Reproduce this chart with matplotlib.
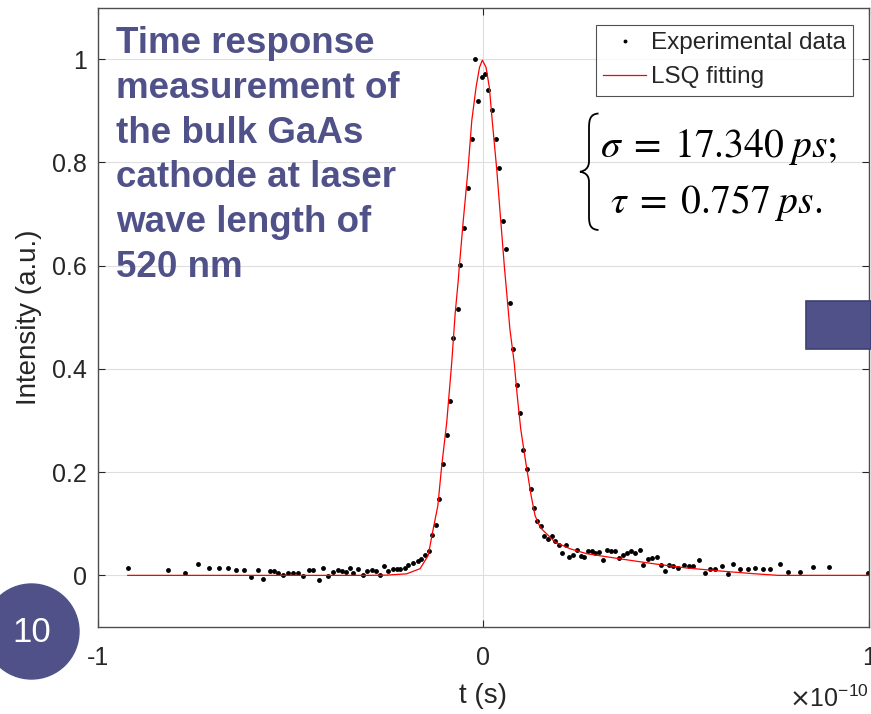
import numpy as np
import matplotlib
matplotlib.use('Agg')
import matplotlib.pyplot as plt
from matplotlib.path import Path
from matplotlib.patches import PathPatch, Circle, Rectangle
from matplotlib.transforms import Affine2D
from matplotlib.ticker import ScalarFormatter, FuncFormatter

plt.rcParams['font.family'] = ['Liberation Sans', 'DejaVu Sans']
plt.rcParams['axes.unicode_minus'] = False

# experimental points, time in units of 1e-10 s
t_exp = [-0.922, -0.817, -0.774, -0.739, -0.711, -0.685, -0.661, -0.641, -0.621, -0.602,
         -0.585, -0.571, -0.553, -0.542, -0.532, -0.520, -0.507, -0.494, -0.480, -0.467,
         -0.451, -0.441, -0.425, -0.415, -0.402, -0.389, -0.378, -0.367, -0.356, -0.346,
         -0.337, -0.324, -0.311, -0.302, -0.289, -0.278, -0.268, -0.258, -0.246, -0.235,
         -0.225, -0.216, -0.203, -0.195, -0.182, -0.169, -0.162, -0.151, -0.140, -0.132,
         -0.123, -0.114, -0.105, -0.095, -0.086, -0.078, -0.067, -0.060, -0.049, -0.0405,
         -0.030, -0.0215, -0.013, -0.004, 0.0044, 0.013, 0.023, 0.032, 0.0415, 0.050,
         0.059, 0.069, 0.076, 0.087, 0.095, 0.104, 0.114, 0.123, 0.131, 0.140,
         0.150, 0.158, 0.167, 0.177, 0.186, 0.195, 0.203, 0.214, 0.223, 0.232,
         0.242, 0.253, 0.261, 0.271, 0.281, 0.290, 0.301, 0.310, 0.320, 0.330,
         0.342, 0.352, 0.362, 0.372, 0.382, 0.393, 0.405, 0.415, 0.426, 0.437,
         0.450, 0.460, 0.471, 0.482, 0.493, 0.506, 0.519, 0.532, 0.543, 0.560,
         0.575, 0.588, 0.600, 0.618, 0.635, 0.648, 0.666, 0.686, 0.705, 0.725,
         0.744, 0.768, 0.791, 0.820, 0.856, 0.897, 0.998]
i_exp = [0.0143, 0.0097, 0.0046, 0.0226, 0.0143, 0.0149, 0.0143, 0.0097, 0.0097, -0.003,
         0.0110, -0.0064, 0.0084, 0.0084, 0.0046, 0.0, 0.0046, 0.0046, 0.0052, -0.0019,
         0.011, 0.011, -0.0096, 0.0149, -0.0019, 0.0066, 0.0097, 0.0084, 0.0066, 0.0143,
         0.0046, 0.0116, 0.0, 0.0077, 0.0097, 0.0084, 0.0, 0.0174, 0.0077, 0.0116,
         0.0116, 0.0129, 0.0143, 0.0206, 0.0239, 0.027, 0.031, 0.040, 0.048, 0.0785,
         0.098, 0.147, 0.215, 0.271, 0.338, 0.460, 0.516, 0.601, 0.673, 0.750,
         0.846, 1.0, 0.918, 0.966, 0.971, 0.941, 0.902, 0.846, 0.789, 0.686,
         0.632, 0.527, 0.439, 0.368, 0.315, 0.243, 0.207, 0.167, 0.131, 0.106,
         0.0965, 0.076, 0.0695, 0.077, 0.0675, 0.058, 0.043, 0.058, 0.0355, 0.0386,
         0.050, 0.0374, 0.0355, 0.047, 0.0463, 0.0438, 0.0451, 0.0289, 0.0482, 0.0463,
         0.0463, 0.0341, 0.040, 0.0438, 0.0463, 0.0438, 0.0482, 0.0206, 0.0322, 0.0341,
         0.0355, 0.0193, 0.0085, 0.0206, 0.0181, 0.0143, 0.0206, 0.0174, 0.0174, 0.0289,
         0.0046, 0.0129, 0.0129, 0.0181, 0.0019, 0.0212, 0.0116, 0.0116, 0.0143, 0.0116,
         0.0116, 0.0212, 0.0066, 0.0066, 0.0162, 0.0162, 0.0039]

# LSQ fitted curve
t_fit = [-0.922, -0.30, -0.25, -0.199, -0.164, -0.143, -0.130, -0.118, -0.108, -0.095,
         -0.082, -0.073, -0.065, -0.062, -0.052, -0.040, -0.030, -0.019, -0.010, -0.0026,
         0.007, 0.0156, 0.023, 0.035, 0.045, 0.0545, 0.069, 0.080, 0.088, 0.097,
         0.110, 0.124, 0.134, 0.143, 0.151, 0.186, 0.225, 0.268, 0.355, 0.441,
         0.527, 0.614, 0.700, 0.765, 1.0]
i_fit = [0.0, 0.0, 0.0005, 0.003, 0.013, 0.0386, 0.090, 0.135, 0.212, 0.296,
         0.412, 0.508, 0.572, 0.601, 0.688, 0.784, 0.881, 0.945, 0.984, 0.998,
         0.984, 0.945, 0.881, 0.784, 0.688, 0.598, 0.476, 0.412, 0.347, 0.283,
         0.219, 0.154, 0.116, 0.100, 0.090, 0.0644, 0.0515, 0.042, 0.032, 0.0226,
         0.0143, 0.0085, 0.0033, 0.0, 0.0]

y_ticks = [0, 0.2, 0.4, 0.6, 0.8, 1]
x_ticks = [-1e-10, 0, 1e-10]

title_lines = ['Time response', 'measurement of', 'the bulk GaAs',
               'cathode at laser', 'wave length of', '520 nm']
fit_lines = [r'$\sigma\;=\;17.340\;ps;$', r'$\tau\;=\;0.757\;ps.$']

W, H = 871, 714
slide_col = '#4f5188'
dark = '#262626'


class PlainScalarFormatter(ScalarFormatter):
    # tick labels as plain text, offset still shown as x10^n
    def __call__(self, x, pos=None):
        return '%g' % (x / 10 ** self.orderOfMagnitude)


def fx(px):
    return px / W


def fy(py):
    return 1 - py / H


fig = plt.figure(figsize=(W / 100, H / 100), dpi=100)
ax = fig.add_axes([fx(97.7), fy(627), fx(869) - fx(97.7), fy(7.5) - fy(627)])
px_tr = Affine2D().scale(1 / W, -1 / H).translate(0, 1) + fig.transFigure

ax.grid(True, color='#dedede', lw=0.8)
ax.set_axisbelow(True)
exp_line, = ax.plot(np.array(t_exp) * 1e-10, i_exp, 'o', color='black', ms=3.5, mew=0,
                    label='Experimental data')
fit_line, = ax.plot(np.array(t_fit) * 1e-10, i_fit, '-', color='#ff0000', lw=0.9,
                    label='LSQ fitting')

ax.set_xlim(-1e-10, 1e-10)
ax.set_ylim(-0.1, 1.1)
ax.set_xticks(x_ticks)
ax.set_yticks(y_ticks)
ax.xaxis.set_major_formatter(PlainScalarFormatter(useMathText=True))
ax.yaxis.set_major_formatter(FuncFormatter(lambda v, p: '%g' % v))
ax.tick_params(direction='in', length=5, width=0.8, colors=dark, labelsize=18,
               top=True, right=True)
ax.tick_params(axis='x', pad=14)
ax.tick_params(axis='y', pad=8)
ax.xaxis.OFFSETTEXTPAD = 11
ax.xaxis.get_offset_text().set_fontsize(18)
ax.xaxis.get_offset_text().set_color(dark)
for sp in ax.spines.values():
    sp.set_color('#4d4d4d')
    sp.set_linewidth(1.0)

ax.set_xlabel('t (s)', fontsize=20, color=dark, labelpad=9)
ax.set_ylabel('Intensity (a.u.)', fontsize=20, color=dark, labelpad=7)

leg = ax.legend(handles=[exp_line, fit_line], loc='upper right',
                bbox_to_anchor=(fx(853), fy(25)), bbox_transform=fig.transFigure,
                borderaxespad=0, fontsize=17.5, frameon=True, fancybox=False,
                handlelength=1.75, handletextpad=0.2, borderpad=0.3,
                labelspacing=0.5, numpoints=1, markerscale=0.8)
leg.get_frame().set_edgecolor(dark)
leg.get_frame().set_linewidth(0.8)
for txt in leg.get_texts():
    txt.set_color(dark)

# title block, one line at a time
for k, line in enumerate(title_lines):
    fig.text(fx(116), fy(53.3 + 44.7 * k), line, fontsize=26.5, fontweight='bold',
             color=slide_col, va='baseline', ha='left')

# fitted parameters with a left brace
fig.text(fx(600), fy(157), fit_lines[0], fontsize=28.5, math_fontfamily='stix',
         va='baseline', ha='left', color='black')
fig.text(fx(610), fy(213), fit_lines[1], fontsize=28.5, math_fontfamily='stix',
         va='baseline', ha='left', color='black')

verts = [(598.5, 113.5), (590, 114), (589, 120), (589, 128),
         (589, 161),
         (589, 168), (585, 171), (580, 171.7),
         (585, 172.5), (589, 175), (589, 182),
         (589, 216),
         (589, 224), (590, 229.5), (598.5, 230)]
codes = [Path.MOVETO, Path.CURVE4, Path.CURVE4, Path.CURVE4,
         Path.LINETO,
         Path.CURVE4, Path.CURVE4, Path.CURVE4,
         Path.CURVE4, Path.CURVE4, Path.CURVE4,
         Path.LINETO,
         Path.CURVE4, Path.CURVE4, Path.CURVE4]
fig.patches.append(PathPatch(Path(verts, codes), fill=False, lw=1.3, color='black',
                             transform=px_tr))

# slide decorations: page badge and side tab
fig.patches.append(Circle((31.5, 631.5), 47.5, transform=px_tr, color=slide_col,
                          zorder=3))
fig.patches.append(Rectangle((806, 301), 65, 48, transform=px_tr, facecolor=slide_col,
                             edgecolor='#3c3f72', lw=1.2, zorder=3))
fig.text(fx(32), fy(633), '10', fontsize=25, color='white', ha='center', va='center',
         zorder=4)

fig.savefig('out.png', dpi=100)
